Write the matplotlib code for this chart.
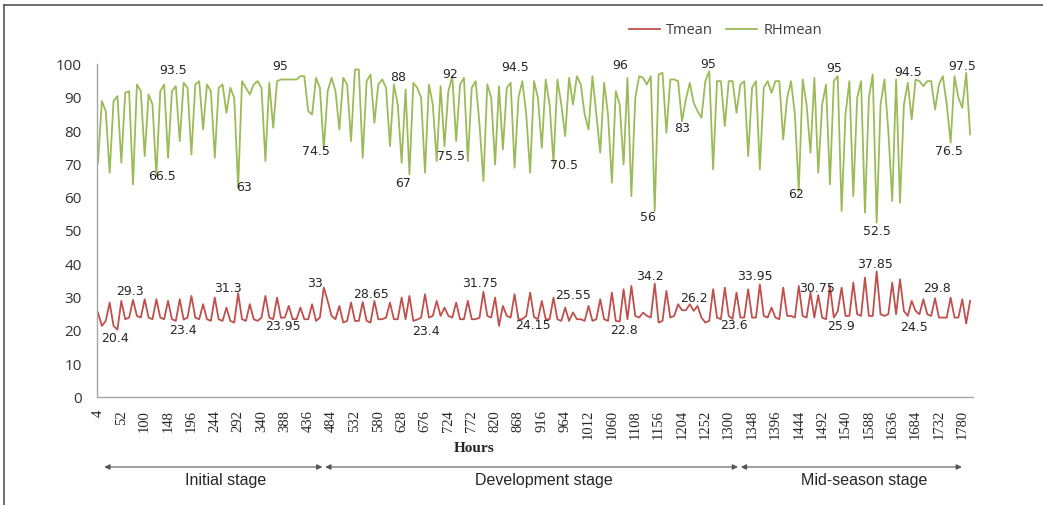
import numpy as np
import matplotlib.pyplot as plt
from matplotlib.lines import Line2D

# 8-hourly means, first reading at hour 4 (one row = 48 h)
t_mean = [
    25.5, 21.5, 23, 28.5, 21.5, 20.4,
    29, 23.5, 24, 29.3, 24.5, 24,
    29.5, 24, 23.5, 29.5, 24, 23.5,
    29, 23.5, 23, 29.5, 23.4, 24,
    30.5, 24, 23.5, 28, 23.5, 23,
    30, 23.5, 23, 27, 23, 22.5,
    31.3, 23.5, 23, 28, 23.5, 23,
    24, 30.5, 24, 23.5, 30, 23.95,
    24, 27.5, 23.5, 23.5, 27, 23.5,
    23.5, 28, 23, 24, 33, 29,
    24.5, 23.5, 27.5, 22.5, 23, 28.5,
    23, 23, 28.65, 23, 22.5, 29,
    23.5, 23.5, 24, 28.5, 23.5, 23.5,
    30, 23.5, 30.5, 23, 23.4, 24,
    31, 24, 24.5, 29, 24.5, 27,
    24.5, 24, 28.5, 23.5, 23.5, 29,
    23.5, 23.5, 24, 31.75, 24.5, 24,
    30, 21.5, 27.5, 24.5, 24, 31,
    23.5, 23.5, 24.5, 31.5, 24.15, 23.5,
    29, 23.5, 23.5, 30, 23.5, 23,
    27, 23, 25.55, 23.5, 23.5, 23,
    27.5, 23, 23.5, 29.5, 23.5, 23,
    31.5, 23, 22.8, 32.5, 23.5, 33.5,
    24.5, 24, 25.5, 24.5, 24, 34.2,
    22.5, 23, 32, 24, 24.5, 28,
    26.2, 26.2, 28, 26, 27.5, 24,
    22.5, 23, 32.5, 24, 23.5, 33,
    24.5, 23.6, 31.5, 24, 24, 32.5,
    24, 24, 33.95, 24.5, 24, 27,
    24, 23.5, 33, 24.5, 24.5, 24,
    33.5, 24.5, 24, 31.5, 24, 30.75,
    24, 23.5, 33.5, 24, 25.9, 33,
    24.5, 24.5, 34.5, 25, 24.5, 36,
    24.5, 24.5, 37.85, 25, 24.5, 25,
    34.5, 25, 35.5, 26, 24.5, 29,
    26, 25, 29.5, 25, 24.5, 29.8,
    24, 24, 24, 30, 24, 24,
    29.5, 22.2, 29,
]

rh_mean = [
    70.5, 89, 86, 67.5, 89, 90.5,
    70.5, 91.5, 92, 64, 94, 92,
    72.5, 91, 88, 66.5, 92, 94,
    72, 92, 93.5, 77, 94.5, 93,
    73, 94, 95, 80.5, 94, 92,
    72, 93, 94, 85.5, 93, 90,
    63, 95, 93, 91, 94, 95,
    93, 71, 94.5, 81, 95, 95.5,
    95.5, 95.5, 95.5, 95.5, 96.5, 96.5,
    86, 85, 96, 93, 74.5, 92,
    96, 92, 80.5, 96, 94, 77,
    98.5, 98.5, 72, 95, 97, 82.5,
    94, 95.5, 93, 75.5, 94, 88,
    70.5, 92.5, 67, 94.5, 93, 90,
    67.5, 94, 88, 71, 93.5, 75.5,
    92, 96.5, 77, 94, 96, 71,
    93, 95, 82, 65, 94, 90,
    70, 93.5, 74.5, 93, 94.5, 69,
    90, 95, 85, 67.5, 95, 90,
    75, 95.5, 88, 70.5, 95.5, 88,
    78.5, 96, 88, 96.5, 94, 85,
    80.5, 96.5, 85, 73.5, 94.5, 85,
    64.5, 92, 88, 70, 96, 60.5,
    90, 96.5, 96, 94, 96.5, 56,
    97, 97.5, 79.5, 95.5, 95.5, 95,
    83, 89.5, 94.5, 88.5, 86, 84,
    95, 98, 68.5, 95, 95, 81.5,
    95, 95, 85.5, 94, 95, 72.5,
    93, 95, 68.5, 93, 95, 91.5,
    95, 95, 77.5, 90, 95, 85,
    62, 95.5, 88, 73.5, 96, 67.5,
    88, 94, 64, 95, 96.5, 56,
    85, 95, 60.5, 90, 95, 55.5,
    90, 97, 52.5, 88, 95.5, 80,
    59, 95.5, 58.5, 88, 94.5, 83.5,
    95.5, 95, 93.5, 95, 95, 86.5,
    94, 96.5, 88, 76.5, 96.5, 90,
    87, 97.5, 79,
]

hours = 4 + 8 * np.arange(len(t_mean))
tick_hours = np.arange(4, 1781, 48)

# labelled readings: (sample index, text offset x, y in pixels)
t_labels = [(5, -2, -9), (9, -3, 8), (22, -1, -11), (36, -10, 5), (47, 2, -9),
            (58, -9, 4), (68, 8, 8), (82, 9, -12), (99, -3, 8), (112, -1, -8),
            (122, 0, 17), (134, 4, -9), (143, -5, 7), (151, 8, 12), (163, 1, -7),
            (170, -5, 8), (185, -1, 7), (190, 3, -15), (200, -2, 7), (208, 6, -12),
            (215, 2, 10)]
rh_labels = [(20, -3, 16), (15, 6, 0), (36, 6, 0), (46, 3, 15), (58, -8, -2),
             (77, 0, 27), (80, -6, -9), (90, 2, 17), (89, 7, -10), (106, 4, 15),
             (117, 10, -3), (136, -7, 12), (143, -7, -6), (150, 0, -7), (156, 3, 17),
             (180, -3, -3), (189, 0, 13), (200, 0, -9), (208, 0, 10), (219, -2, -9),
             (223, -4, 6)]

stage_names = ['Initial stage', 'Development stage', 'Mid-season stage']
stage_edges = [14, 468, 1322, 1782]

fig = plt.figure(figsize=(10.43, 5.05), dpi=100)
ax = fig.add_axes([0.093, 0.2129, 0.8399, 0.6594])

ax.plot(hours, t_mean, color='#C0504D', lw=1.3, label='Tmean')
ax.plot(hours, rh_mean, color='#9BBB59', lw=1.3, label='RHmean')

for series, labels in ((t_mean, t_labels), (rh_mean, rh_labels)):
    for i, dx, dy in labels:
        ax.annotate(f'{series[i]:g}', (hours[i], series[i]), xytext=(dx, dy),
                    textcoords='offset pixels', ha='center', va='center',
                    fontsize=9, color='#262626', family='DejaVu Sans')

ax.set_xlim(2, 1802)
ax.set_ylim(0, 100)
ax.set_yticks(range(0, 101, 10))
ax.set_xticks(tick_hours)
ax.set_xticklabels([str(h) for h in tick_hours], rotation=90,
                   family='Liberation Serif', fontsize=10.5, color='#262626')
for lab in ax.get_yticklabels():
    lab.set_family('Open Sans')
    lab.set_fontsize(11)
    lab.set_color('#333333')
ax.tick_params(axis='x', length=0, pad=9)
ax.tick_params(axis='y', length=0, pad=11)

for side in ('top', 'right'):
    ax.spines[side].set_visible(False)
for side in ('left', 'bottom'):
    ax.spines[side].set_color('#A6A6A6')
    ax.spines[side].set_linewidth(1.0)

fig.text(474 / 1043, 1 - 448 / 505, 'Hours', ha='center', va='center',
         family='Liberation Serif', fontweight='bold', fontsize=11, color='#262626')

# growth stages under the axis
stage_tf = ax.get_xaxis_transform().__class__(ax.transData, fig.transFigure)
arrow_y = 1 - 467 / 505
text_y = 1 - 480 / 505
for k, name in enumerate(stage_names):
    x0, x1 = stage_edges[k] + 3, stage_edges[k + 1] - 3
    ax.annotate('', xy=(x1, arrow_y), xytext=(x0, arrow_y),
                xycoords=('data', 'figure fraction'),
                textcoords=('data', 'figure fraction'),
                arrowprops=dict(arrowstyle='<|-|>', color='#555555', lw=0.8,
                                mutation_scale=8, shrinkA=0, shrinkB=0))
    ax.text((x0 + x1) / 2 + 26, text_y, name, ha='center', va='center',
            transform=stage_tf, family='Liberation Sans', fontsize=11.5,
            color='#262626')

leg = fig.legend(loc='center', bbox_to_anchor=(0.6956, 0.939), ncol=2, frameon=False,
                 handlelength=2.1, handletextpad=0.45, columnspacing=0.9,
                 prop={'family': 'Open Sans', 'size': 10.5})
for txt in leg.get_texts():
    txt.set_color('#404040')

# border lines of the figure panel
fig.add_artist(Line2D([0.004, 1], [0.990, 0.990], transform=fig.transFigure,
                      color='#555555', lw=1.2))
fig.add_artist(Line2D([0.004, 0.004], [0, 0.990], transform=fig.transFigure,
                      color='#555555', lw=1.2))

fig.savefig('out.png', dpi=100)
